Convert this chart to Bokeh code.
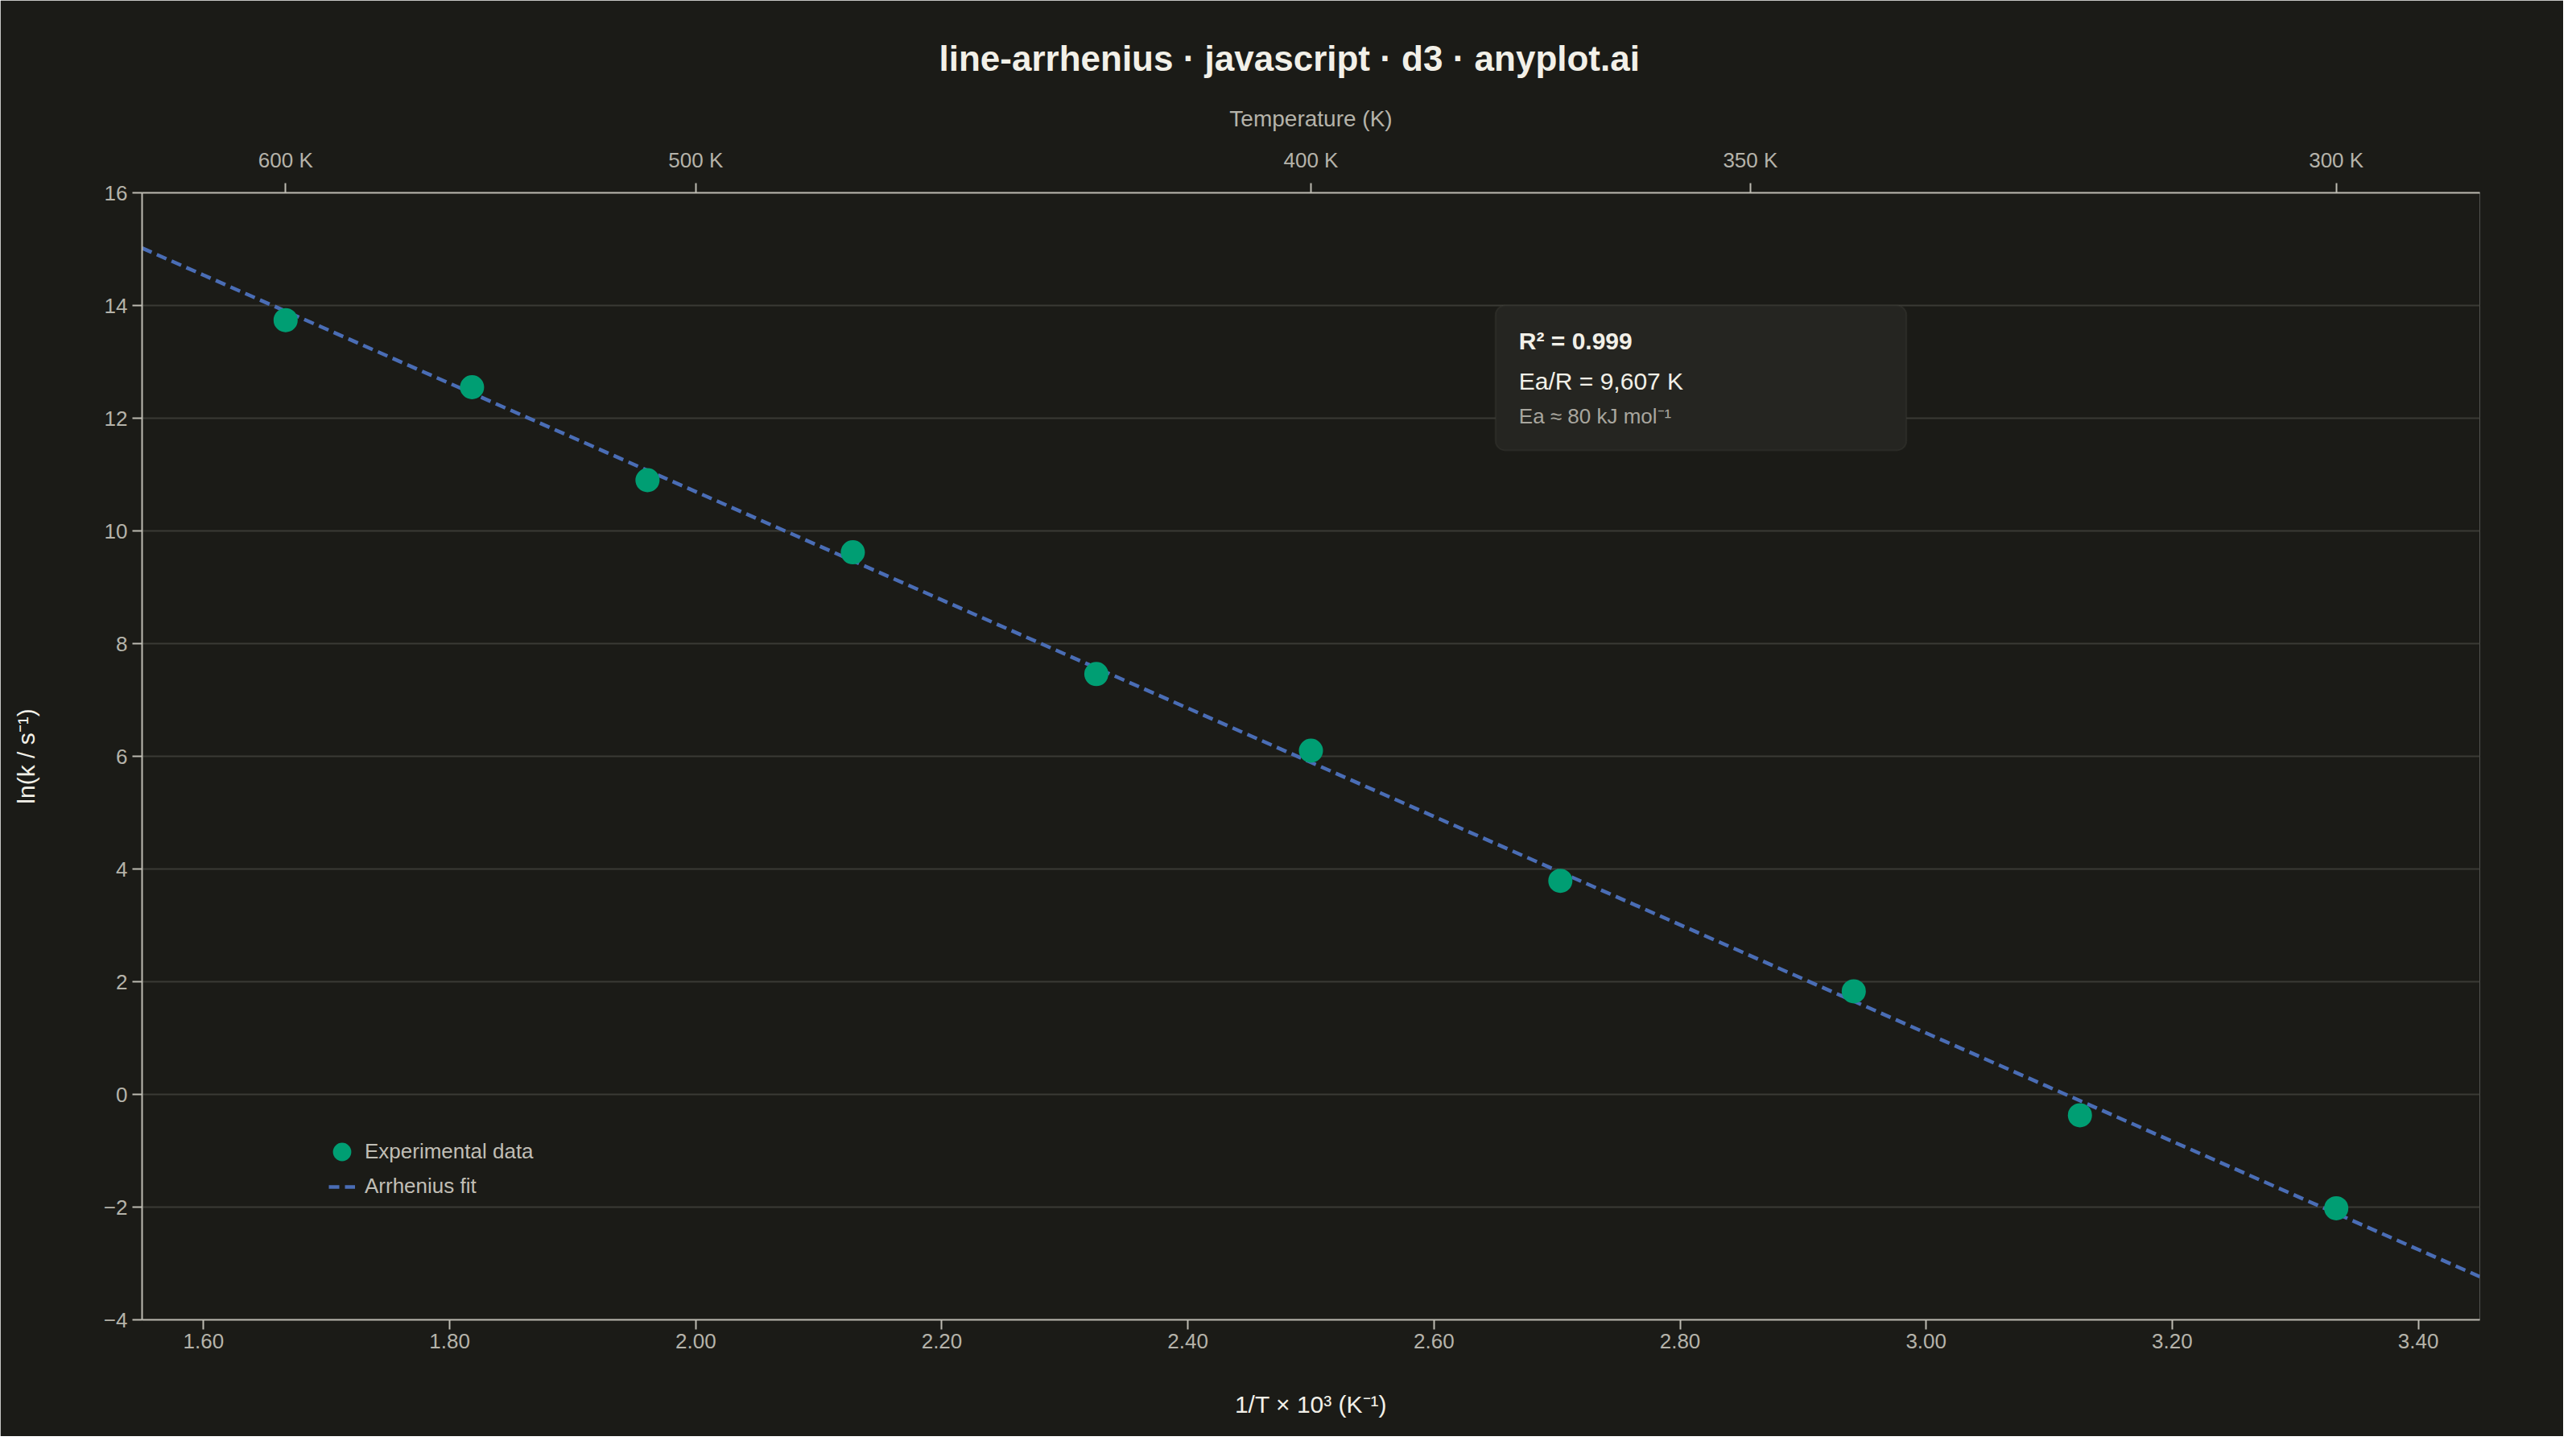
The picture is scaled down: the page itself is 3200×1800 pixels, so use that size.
import numpy as np
from bokeh.plotting import figure
from bokeh.models import (LinearAxis, FixedTicker, CustomJSTickFormatter, NumeralTickFormatter,
                          BoxAnnotation, Label, Legend, LegendItem)
from bokeh.embed import file_html
from bokeh.resources import INLINE

# values
temperature = [600, 550, 510, 470, 430, 400, 370, 340, 320, 300]
ln_k = [13.74, 12.55, 10.90, 9.62, 7.46, 6.10, 3.79, 1.83, -0.37, -2.02]
inv_t = [1000 / t for t in temperature]

ea_over_r = 9607      # K
fit_intercept = 29.91
r_squared = 0.999

x_min, x_max = 1.55, 3.45
y_min, y_max = -4, 16
x_ticks = [1.60, 1.80, 2.00, 2.20, 2.40, 2.60, 2.80, 3.00, 3.20, 3.40]
y_ticks = [-4, -2, 0, 2, 4, 6, 8, 10, 12, 14, 16]
top_temps = [600, 500, 400, 350, 300]

bg = "#1b1b17"
grid_col = "#3a3a35"
axis_col = "#bdbbb2"
tick_col = "#b5b3aa"
white = "#f2f0e8"
green = "#009e73"
blue = "#4a6db5"
font = "Liberation Sans"

p = figure(width=3184, height=1784, x_range=(x_min, x_max), y_range=(y_min, y_max),
           output_backend="svg", toolbar_location=None,
           background_fill_color=bg, border_fill_color=bg,
           min_border_left=176, min_border_right=104, min_border_top=239, min_border_bottom=145)
p.outline_line_color = None

p.title.text = "line-arrhenius · javascript · d3 · anyplot.ai"
p.title.text_font = font
p.title.text_font_size = "44px"
p.title.text_font_style = "bold"
p.title.text_color = white
p.title.align = "left"
p.title.offset = 990
p.title.standoff = 63

# fit line
fit_x = [x_min, x_max]
fit_y = [fit_intercept - ea_over_r / 1000 * x for x in fit_x]
fit = p.line(fit_x, fit_y, line_color=blue, line_width=4.5, line_dash="13 7")
pts = p.scatter(inv_t, ln_k, size=30, fill_color=green, line_color=None)

# axes
def style_axis(ax, label_size):
    ax.axis_line_color = axis_col
    ax.axis_line_width = 2
    ax.major_tick_line_color = axis_col
    ax.major_tick_line_width = 2
    ax.major_tick_out = 12
    ax.major_tick_in = 0
    ax.minor_tick_line_color = None
    ax.major_label_text_font = font
    ax.major_label_text_font_size = "26px"
    ax.major_label_text_color = tick_col
    ax.axis_label_text_font = font
    ax.axis_label_text_font_size = label_size
    ax.axis_label_text_font_style = "normal"

xa = p.xaxis[0]
style_axis(xa, "30px")
xa.ticker = FixedTicker(ticks=x_ticks)
xa.formatter = NumeralTickFormatter(format="0.00")
xa.axis_label = "1/T × 10³ (K⁻¹)"
xa.axis_label_text_color = white
xa.major_label_standoff = 5
xa.axis_label_standoff = 50

ya = p.yaxis[0]
style_axis(ya, "30px")
ya.ticker = FixedTicker(ticks=y_ticks)
ya.major_label_overrides = {-4: "−4", -2: "−2"}
ya.axis_label = "ln(k / s⁻¹)"
ya.axis_label_text_color = white
ya.major_label_standoff = 6
ya.axis_label_standoff = 77

top = LinearAxis(ticker=FixedTicker(ticks=[1000 / t for t in top_temps]),
                 formatter=CustomJSTickFormatter(code="return Math.round(1000 / tick) + ' K';"))
style_axis(top, "28px")
top.axis_label = "Temperature (K)"
top.axis_label_text_color = tick_col
top.major_label_standoff = 14
top.axis_label_standoff = 18
p.add_layout(top, "above")

p.xgrid.visible = False
p.ygrid.ticker = FixedTicker(ticks=y_ticks)
p.ygrid.grid_line_color = grid_col
p.ygrid.grid_line_width = 2

# stats box
box = BoxAnnotation(left=2.650, right=2.984, top=14.0, bottom=11.43,
                    fill_color="#252521", fill_alpha=1, line_color="#45453f", line_width=2,
                    border_radius=12)
p.add_layout(box)
ea_kj = round(ea_over_r * 8.314 / 1000)
p.add_layout(Label(x=2.669, y=13.371, text=f"R² = {r_squared}", text_font=font, text_font_size="30px",
                   text_font_style="bold", text_color=white, text_baseline="alphabetic"))
p.add_layout(Label(x=2.669, y=12.657, text=f"Ea/R = {ea_over_r:,} K", text_font=font, text_font_size="30px",
                   text_color=white, text_baseline="alphabetic"))
p.add_layout(Label(x=2.669, y=12.033, text=f"Ea ≈ {ea_kj} kJ mol⁻¹", text_font=font, text_font_size="26px",
                   text_color="#a8a69e", text_baseline="alphabetic"))

# legends (two so the marker and dash can have their own sizes)
leg_pts = Legend(items=[LegendItem(label="Experimental data", renderers=[pts])], location=(220, 180),
                 glyph_width=57, glyph_height=57, label_height=57, label_standoff=0)
leg_fit = Legend(items=[LegendItem(label="Arrhenius fit", renderers=[fit])], location=(232, 150),
                 glyph_width=33, glyph_height=30, label_height=30, label_standoff=12)
for lg in (leg_pts, leg_fit):
    lg.background_fill_alpha = 0
    lg.border_line_color = None
    lg.padding = 0
    lg.margin = 0
    lg.spacing = 0
    lg.label_text_font = font
    lg.label_text_font_size = "26px"
    lg.label_text_color = "#c0beb5"
    p.add_layout(lg)

open("out.html", "w").write(file_html(p, INLINE))
